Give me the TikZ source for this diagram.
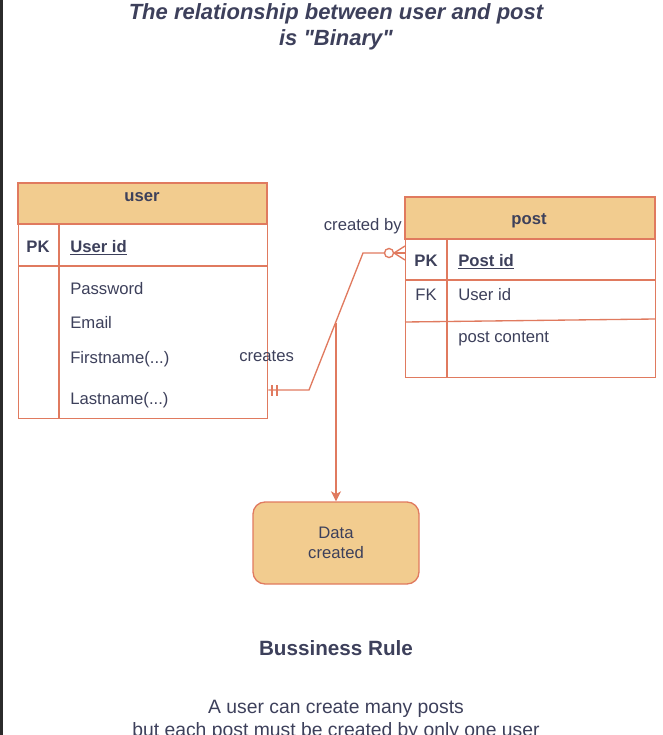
\documentclass[tikz,border=0pt]{standalone}
\usepackage{fontspec}
\setmainfont{Liberation Sans}
\usetikzlibrary{arrows.meta,calc}
\definecolor{erstroke}{HTML}{E07A5F}
\definecolor{erfill}{HTML}{F2CC8F}
\definecolor{ertext}{HTML}{3D405B}
\definecolor{edgebar}{HTML}{2B2B2B}
\newcommand{\tsz}{\fontsize{12.5}{14}\selectfont}
\tikzset{
  tbl/.style={draw=erstroke, line width=1pt, fill=white, inner sep=0pt, anchor=north west},
  hdr/.style={draw=erstroke, line width=1pt, fill=erfill},
  sep/.style={draw=erstroke, line width=1pt},
  conn/.style={draw=erstroke, line width=1pt},
  ftxt/.style={text=ertext, font=\tsz, inner sep=0pt, anchor=base west},
  ktxt/.style={text=ertext, font=\tsz, inner sep=0pt, anchor=base},
  htxt/.style={text=ertext, font=\bfseries\tsz, inner sep=0pt, anchor=base},
  dbox/.style={draw=erstroke, line width=1pt, fill=erfill, rounded corners=9pt, minimum width=124.5pt, minimum height=61.5pt, inner sep=0pt, align=center, text=ertext, font=\fontsize{12.5}{15.5}\selectfont}
}
\begin{document}
\begin{tikzpicture}[x=0.75pt,y=-0.75pt]
\useasboundingbox (0,0) rectangle (662,735);
\fill[edgebar] (0,0) rectangle (3,735);

% title
\node[text=ertext, font=\bfseries\itshape\fontsize{16.5}{19.5}\selectfont, align=center] (title) at (336,27) {The relationship between user and post\\is \textquotedbl Binary\textquotedbl};

% user table
\node[tbl, minimum width=186.75pt, minimum height=176.25pt] (user) at (18,183) {};
\path[hdr] (18,183) rectangle (267,224);
\draw[sep] (18,266) -- (267,266);
\draw[sep] (59,224) -- (59,418);
\node[htxt] (userh) at (142,201) {user};
\node[htxt] (userpk) at (38,252) {PK};
\node[ftxt, font=\bfseries\tsz] (userid) at (70,252) {\underline{User id}};
\node[ftxt] (pw) at (70,294) {Password};
\node[ftxt] (em) at (70,328) {Email};
\node[ftxt] (fn) at (70,363) {Firstname(...)};
\node[ftxt] (ln) at (70,404) {Lastname(...)};

% post table
\node[tbl, minimum width=187.5pt, minimum height=135pt] (post) at (405,197) {};
\path[hdr] (405,197) rectangle (655,239);
\draw[sep] (405,280) -- (655,280);
\draw[sep] (405,322) -- (655,319);
\draw[sep] (447,239) -- (447,377);
\node[htxt] (posth) at (529,224) {post};
\node[htxt] (postpk) at (426,266) {PK};
\node[ftxt, font=\bfseries\tsz] (postid) at (458,266) {\underline{Post id}};
\node[ktxt] (postfk) at (426,300) {FK};
\node[ftxt] (postuid) at (458,300) {User id};
\node[ftxt] (pc) at (458,342) {post content};

% relationship connector
\coordinate (ua) at (user.south east |- 0,390);
\coordinate (pa) at (post.north west |- 0,253);
\coordinate (b1) at (309,390);
\coordinate (b2) at (363,253);
\draw[conn] (ua) -- (b1) -- (b2) -- (384,253);
\draw[conn] (272,385) -- (272,396);
\draw[conn] (277,385) -- (277,396);
\draw[conn] (pa) -- (394,253);
\draw[conn] (394,253) -- ($(pa)+(0,-7)$);
\draw[conn] (394,253) -- ($(pa)+(0,7)$);
\draw[conn, fill=white] (389,253) circle (3.4pt);
\node[text=ertext, font=\tsz, inner sep=0pt, anchor=base east] (cby) at (402,230) {created by};
\node[text=ertext, font=\tsz, inner sep=0pt, anchor=base west] (cr) at (239,361) {creates};

% data created
\node[dbox] (data) at (336,543) {Data\\created};
\coordinate (tap) at (336,323);
\draw[conn, -{Stealth[length=7.5pt,width=7.5pt,inset=2pt]}] (tap) -- (data.north);

% business rule
\node[text=ertext, font=\bfseries\fontsize{15.5}{17}\selectfont] (br) at (336,648) {Bussiness Rule};
\node[text=ertext, font=\fontsize{14.5}{17.25}\selectfont, align=center, anchor=north] (rule) at (336,695) {A user can create many posts\\but each post must be created by only one user};
\end{tikzpicture}
\end{document}
